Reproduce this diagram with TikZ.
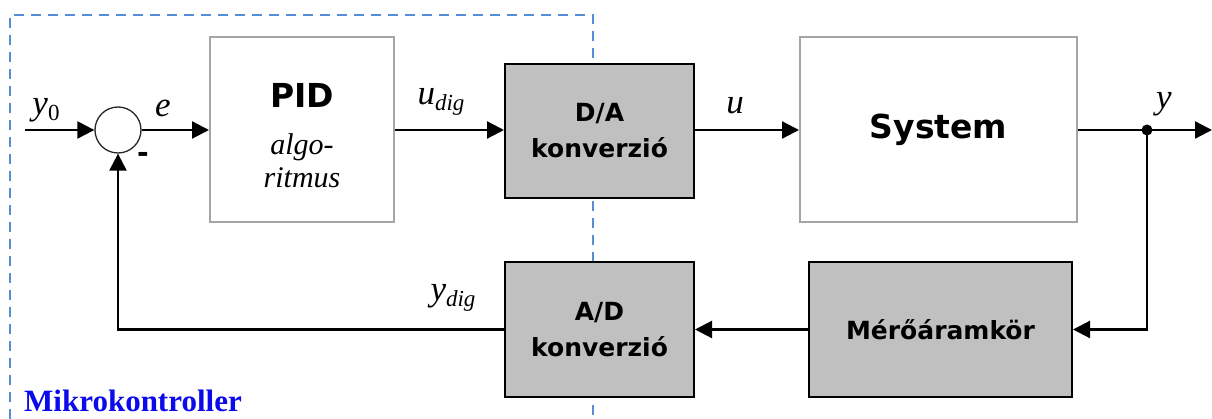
\documentclass[tikz,border=0pt]{standalone}
\usepackage{fontspec}
\setmainfont{Liberation Serif}
\newfontfamily\boxfont{DejaVu Sans}
\usetikzlibrary{arrows.meta}
\definecolor{boxgray}{RGB}{192,192,192}
\definecolor{lightborder}{RGB}{165,165,165}
\definecolor{dashblue}{RGB}{85,142,213}
\definecolor{mkblue}{RGB}{10,10,235}
\tikzset{
  graybox/.style={draw=black, line width=2pt, fill=boxgray, inner sep=0pt, align=center,
    font=\boxfont\bfseries\fontsize{25}{36}\selectfont},
  whitebox/.style={draw=lightborder, line width=2pt, fill=white, inner sep=0pt, align=center},
  sig/.style={line width=2.2pt, -{Triangle[length=17pt,width=17pt]}},
  wire/.style={line width=2.2pt},
  lbl/.style={inner sep=0pt, font=\itshape\fontsize{35}{35}\selectfont},
}
\newcommand{\subsc}[1]{\raisebox{-6pt}{\fontsize{23}{23}\selectfont #1}}
\begin{document}
\begin{tikzpicture}[x=1pt,y=-1pt]
\useasboundingbox (0,0) rectangle (1212,419);
% microcontroller frame
\draw[dashblue, line width=2pt, dash pattern=on 10pt off 7pt] (10,419) -- (10,15) -- (593,15) -- (593,419);
% blocks
\node[whitebox, minimum width=184pt, minimum height=185pt, font=\itshape\fontsize{30}{33}\selectfont] (pid) at (302,129.5)
  {{\boxfont\bfseries\upshape\fontsize{33}{33}\selectfont\rule{0pt}{37pt}PID}\\[14pt]
   algo-\\
   ritmus};
\node[graybox, minimum width=189pt, minimum height=134pt] (da) at (599.5,131) {D/A\\konverzió};
\node[whitebox, minimum width=277pt, minimum height=185pt,
  font=\boxfont\bfseries\fontsize{33}{33}\selectfont] (sys) at (938.5,129.5) {System};
\node[graybox, minimum width=263pt, minimum height=135pt] (mero) at (940.5,329.5) {Mérőáramkör};
\node[graybox, minimum width=189pt, minimum height=135pt] (ad) at (599.5,329.5) {A/D\\konverzió};
\node[circle, draw=black!85, line width=1.3pt, minimum size=46pt, inner sep=0pt] (sum) at (118,130) {};
\node[circle, fill=black, minimum size=11pt, inner sep=0pt] (br) at (1147,130) {};
\coordinate (in) at (25,130);
\coordinate (out) at (1212,130);
% connectors
\draw[sig] (in) -- (sum.west);
\draw[sig] (sum.east) -- (sum.east -| pid.west);
\draw[sig] (sum.east -| pid.east) -- (sum.east -| da.west);
\draw[sig] (sum.east -| da.east) -- (sum.east -| sys.west);
\draw[wire] (sum.east -| sys.east) -- (br.center);
\draw[sig] (br.center) -- (out);
\draw[sig] (br.center) |- (mero.east);
\draw[sig] (mero.west) -- (ad.east);
\draw[sig] (ad.west) -| (sum.south);
% labels
\node[lbl] (ly0) at (46,110) {y\subsc{\upshape 0}};
\node[lbl] (le) at (163,108) {e};
\node[lbl] (ludig) at (441,102) {u\subsc{dig}};
\node[lbl] (lu) at (735,106) {u};
\node[lbl] (ly) at (1164,104) {y};
\node[lbl] (lydig) at (453,298) {y\subsc{dig}};
\node[inner sep=0pt, font=\boxfont\bfseries\fontsize{28}{28}\selectfont] (minus) at (143,157) {-};
\node[anchor=west, inner sep=0pt, text=mkblue, font=\bfseries\fontsize{31}{31}\selectfont] (mk) at (24,401) {Mikrokontroller};
\end{tikzpicture}
\end{document}
